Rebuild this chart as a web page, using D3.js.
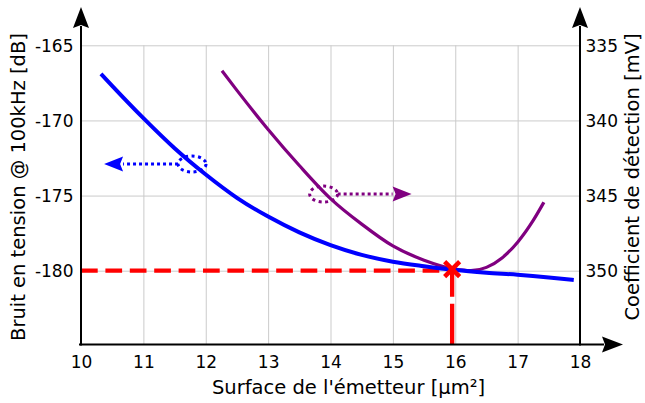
<!DOCTYPE html>
<html>
<head>
<meta charset="utf-8">
<script src="https://cdn.jsdelivr.net/npm/d3@7"></script>
<style>
  html, body { margin: 0; padding: 0; background: #fff; }
  svg { display: block; font-family: "DejaVu Sans", sans-serif; }
</style>
</head>
<body>
<svg id="chart" width="645" height="403"></svg>
<script>
// ---- data ----
const xTicks = [10, 11, 12, 13, 14, 15, 16, 17, 18];
const leftTicks = [-165, -170, -175, -180];
const rightTicks = [335, 340, 345, 350];

const noiseX = [10.32, 10.5, 11, 11.5, 12, 12.5, 13, 13.5, 14, 14.5, 15, 15.5, 16, 16.5, 17, 17.5, 17.9];
const noiseY = [-166.9, -167.7, -169.85, -171.85, -173.6, -175.15, -176.4, -177.45, -178.3, -178.95, -179.4, -179.7, -179.95, -180.13, -180.27, -180.45, -180.62];

const detX = [12.26, 12.5, 13, 13.5, 14, 14.5, 15, 15.5, 16, 16.25, 16.5, 16.75, 17, 17.25, 17.42];
const detY = [336.7, 338.0, 340.6, 343.0, 345.2, 346.9, 348.35, 349.3, 349.9, 350.0, 349.78, 349.15, 348.1, 346.65, 345.45];

const optimum = { x: 15.95, y: -180 };
// annotation: ellipse centre (x, axis value) and arrow tip x
const noiseAnno = { x: 11.78, y: -172.9, tipX: 10.37 };
const detAnno = { x: 13.89, y: 344.9, tipX: 15.3 };

const xTitle = "Surface de l'émetteur [µm²]";
const leftTitle = "Bruit en tension @ 100kHz [dB]";
const rightTitle = "Coefficient de détection [mV]";

// ---- layout ----
const L = 81, R = 580, T = 45.3, B = 344.5;
const svg = d3.select("#chart");

const x = d3.scaleLinear().domain([10, 18]).range([L, R]);
const yL = d3.scaleLinear().domain([-165, -180]).range([45.3, 270.7]);
const yR = d3.scaleLinear().domain([335, 350]).range([45.3, 270.7]);

const gridColor = "#cbcbcb";
const fmt = d => String(d);

// grid
svg.append("g").attr("transform", `translate(0,${B})`)
  .call(d3.axisBottom(x).tickValues(xTicks.slice(1, -1)).tickSize(-(B - T)).tickFormat(""))
  .call(g => g.select(".domain").remove())
  .call(g => g.selectAll("line").attr("stroke", gridColor).attr("stroke-width", 1));
svg.append("g").attr("transform", `translate(${L},0)`)
  .call(d3.axisLeft(yL).tickValues(leftTicks).tickSize(-(R - L)).tickFormat(""))
  .call(g => g.select(".domain").remove())
  .call(g => g.selectAll("line").attr("stroke", gridColor).attr("stroke-width", 1));

// red dashed guides
svg.append("line")
  .attr("x1", L).attr("x2", x(optimum.x))
  .attr("y1", yL(optimum.y)).attr("y2", yL(optimum.y))
  .attr("stroke", "#ff0000").attr("stroke-width", 4.3)
  .attr("stroke-dasharray", "16.7,7.7");
svg.append("line")
  .attr("x1", x(optimum.x)).attr("x2", x(optimum.x))
  .attr("y1", yL(optimum.y)).attr("y2", B)
  .attr("stroke", "#ff0000").attr("stroke-width", 4.3)
  .attr("stroke-dasharray", "26,7,60");

// curves
const lineDet = d3.line().x((d, i) => x(detX[i])).y((d, i) => yR(detY[i])).curve(d3.curveMonotoneX);
const lineNoise = d3.line().x((d, i) => x(noiseX[i])).y((d, i) => yL(noiseY[i])).curve(d3.curveMonotoneX);

svg.append("path").attr("d", lineDet(detX)).attr("fill", "none")
  .attr("stroke", "#800080").attr("stroke-width", 3.2);
svg.append("path").attr("d", lineNoise(noiseX)).attr("fill", "none")
  .attr("stroke", "#0000ff").attr("stroke-width", 4);

// annotations
function anno(a, color, dir) {
  const cx = x(a.x), cy = yL(a.y);
  const rx = 14, ry = 8;
  svg.append("ellipse").attr("cx", cx).attr("cy", cy).attr("rx", rx).attr("ry", ry)
    .attr("fill", "none").attr("stroke", color).attr("stroke-width", 3)
    .attr("stroke-dasharray", "3,3.5");
  const tip = x(a.tipX);
  const base = tip - dir * 19;
  const startX = cx + dir * rx;
  svg.append("line").attr("x1", startX).attr("x2", base).attr("y1", cy).attr("y2", cy)
    .attr("stroke", color).attr("stroke-width", 3).attr("stroke-dasharray", "3,3");
  svg.append("path")
    .attr("d", `M${tip},${cy} L${base},${cy - 7.5} L${base + dir * 3},${cy} L${base},${cy + 7.5} Z`)
    .attr("fill", color);
}
anno(noiseAnno, "#0000ff", -1);
anno({ x: detAnno.x, y: yL.invert(yR(detAnno.y)), tipX: detAnno.tipX }, "#800080", 1);

// red X
const ox = x(optimum.x), oy = yL(-179.9);
svg.append("path")
  .attr("d", `M${ox - 7.5},${oy - 7.5}L${ox + 7.5},${oy + 7.5}M${ox - 7.5},${oy + 7.5}L${ox + 7.5},${oy - 7.5}`)
  .attr("stroke", "#ff0000").attr("stroke-width", 4.5).attr("fill", "none");

// tick labels via axes
const fs = "17px";
svg.append("g").attr("transform", `translate(${L},0)`)
  .call(d3.axisLeft(yL).tickValues(leftTicks).tickSize(0).tickPadding(7.5).tickFormat(fmt))
  .call(g => g.select(".domain").remove())
  .call(g => g.selectAll("text").attr("font-size", fs).attr("font-family", "DejaVu Sans").attr("fill", "#000").attr("dy", "0.37em"));
svg.append("g").attr("transform", `translate(${R},0)`)
  .call(d3.axisRight(yR).tickValues(rightTicks).tickSize(0).tickPadding(5.5).tickFormat(fmt))
  .call(g => g.select(".domain").remove())
  .call(g => g.selectAll("text").attr("font-size", fs).attr("font-family", "DejaVu Sans").attr("fill", "#000").attr("dy", "0.37em"));
svg.append("g").attr("transform", `translate(0,${B})`)
  .call(d3.axisBottom(x).tickValues(xTicks).tickSize(0).tickPadding(11.4).tickFormat(fmt))
  .call(g => g.select(".domain").remove())
  .call(g => g.selectAll("text").attr("font-size", fs).attr("font-family", "DejaVu Sans").attr("fill", "#000"));

// axis lines with arrows
const ax = svg.append("g").attr("stroke", "#000").attr("stroke-width", 2);
ax.append("line").attr("x1", L).attr("x2", L).attr("y1", B + 1).attr("y2", 26);
ax.append("line").attr("x1", R).attr("x2", R).attr("y1", B + 1).attr("y2", 26);
ax.append("line").attr("x1", L - 2).attr("x2", 604).attr("y1", B).attr("y2", B);
function arrowUp(cx) {
  svg.append("path").attr("d", `M${cx},7 L${cx + 8},28 L${cx},25 L${cx - 8},28 Z`).attr("fill", "#000");
}
arrowUp(L); arrowUp(R);
svg.append("path").attr("d", `M623,${B} L602,${B - 8} L605,${B} L602,${B + 8} Z`).attr("fill", "#000");

// titles
const tfs = "19.5px";
svg.append("text").attr("x", 348.5).attr("y", 394).attr("text-anchor", "middle")
  .attr("font-size", tfs).attr("fill", "#000").text(xTitle);
svg.append("text").attr("transform", "translate(25,187) rotate(-90)").attr("text-anchor", "middle")
  .attr("font-size", tfs).attr("fill", "#000").text(leftTitle);
svg.append("text").attr("transform", "translate(639,177) rotate(-90)").attr("text-anchor", "middle")
  .attr("font-size", tfs).attr("fill", "#000").text(rightTitle);
</script>
</body>
</html>
